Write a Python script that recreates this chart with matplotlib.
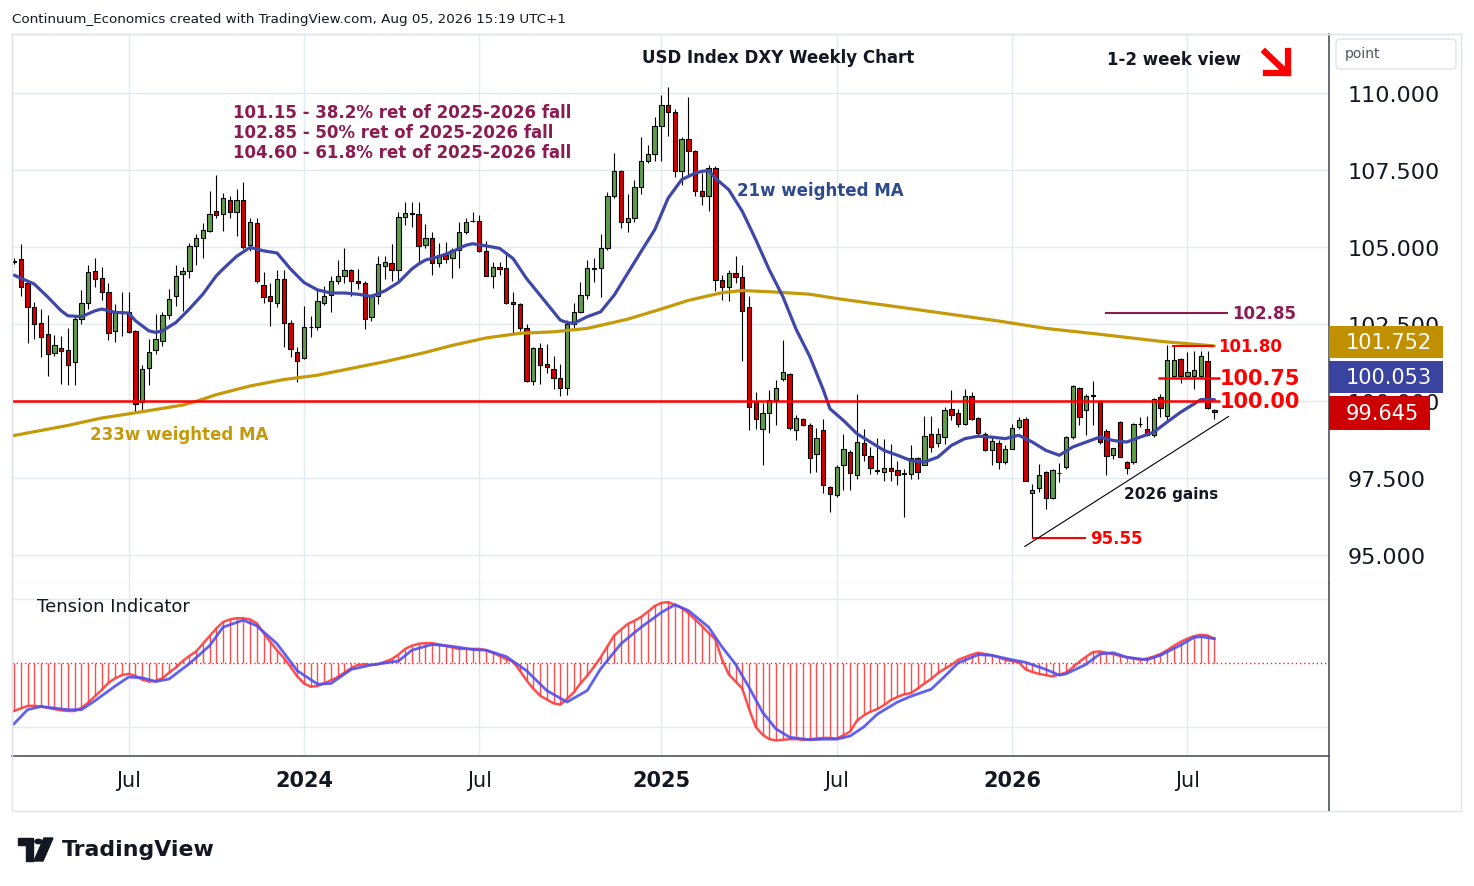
import numpy as np
import pandas as pd
import matplotlib
matplotlib.use("Agg")
import matplotlib.pyplot as plt
from matplotlib.patches import Rectangle, Polygon, Circle, FancyBboxPatch
from matplotlib.lines import Line2D

# weekly DXY candles, first bar = week of 2023-03-06
opens = [104.55, 104.61, 103.82, 103.07, 102.55, 102.18, 101.55, 101.71, 101.65, 101.26,
         102.68, 103.17, 104.21, 104.01, 103.53, 102.26, 102.88, 102.88, 102.26, 99.96,
         101.06, 101.67, 101.96, 102.79, 103.40, 104.14, 104.23, 105.02, 105.28, 105.53,
         106.16, 106.07, 106.54, 106.13, 106.54, 105.06, 105.77, 103.78, 103.40, 103.18,
         103.96, 102.55, 101.60, 101.39, 102.39, 102.42, 103.20, 103.44, 103.91, 104.05,
         104.25, 103.91, 103.85, 102.72, 103.42, 104.40, 104.47, 104.25, 105.99, 106.10,
         106.07, 105.06, 105.30, 104.49, 104.74, 104.63, 104.92, 105.50, 105.84, 105.84,
         104.88, 104.07, 104.36, 104.33, 103.23, 103.15, 102.38, 100.65, 101.73, 101.19,
         101.03, 100.74, 100.41, 102.49, 102.90, 103.46, 104.30, 104.31, 104.96, 106.67,
         107.48, 105.80, 105.96, 106.94, 107.81, 108.03, 108.92, 109.62, 109.40, 107.46,
         108.51, 108.11, 106.81, 106.65, 107.56, 103.92, 103.72, 104.16, 104.03, 103.07,
         99.99, 99.09, 99.61, 100.04, 100.71, 100.89, 99.07, 99.42, 99.21, 98.28,
         99.07, 97.20, 96.96, 97.93, 98.34, 97.59, 98.65, 98.21, 97.74, 97.69,
         97.82, 97.75, 97.65, 97.64, 98.15, 97.93, 98.94, 98.65, 98.83, 99.75,
         99.62, 99.26, 100.18, 99.45, 98.94, 98.40, 98.64, 98.02, 98.45, 99.16,
         99.43, 97.02, 97.18, 97.69, 96.85, 97.66, 97.86, 98.83, 100.42, 99.70,
         100.18, 99.99, 99.02, 98.26, 99.32, 98.02, 98.02, 99.25, 99.10, 98.89,
         100.13, 99.51, 100.83, 101.37, 100.83, 100.80, 100.80, 101.30, 99.72]
highs = [104.65, 105.10, 103.93, 103.22, 102.99, 102.79, 102.14, 102.12, 102.36, 102.77,
         103.60, 104.42, 104.66, 104.37, 103.85, 103.15, 103.53, 103.53, 102.30, 101.17,
         102.01, 102.82, 102.88, 103.64, 104.42, 104.34, 105.13, 105.42, 105.78, 106.82,
         107.34, 106.75, 106.65, 106.88, 107.10, 105.96, 105.93, 104.18, 103.85, 104.26,
         104.26, 102.64, 101.74, 103.10, 102.77, 103.66, 103.75, 104.05, 104.59, 104.97,
         104.29, 104.29, 103.91, 103.47, 104.72, 104.70, 105.10, 106.13, 106.48, 106.45,
         106.45, 105.74, 105.48, 105.12, 105.17, 104.96, 105.80, 105.93, 106.13, 106.04,
         105.19, 104.50, 104.52, 104.79, 103.55, 103.20, 102.49, 101.76, 101.90, 101.84,
         101.47, 101.22, 102.63, 103.17, 103.87, 104.58, 104.65, 105.44, 106.80, 108.07,
         107.50, 106.74, 107.19, 108.57, 108.32, 109.24, 109.95, 110.19, 109.48, 108.57,
         109.89, 108.15, 107.40, 107.67, 107.62, 104.10, 104.26, 104.72, 104.43, 103.40,
         100.28, 99.94, 100.37, 100.69, 101.99, 100.91, 99.55, 99.45, 99.29, 99.12,
         99.42, 97.25, 97.93, 98.94, 98.40, 100.24, 99.10, 98.51, 98.80, 98.78,
         98.61, 98.04, 97.80, 98.56, 98.18, 99.53, 99.51, 99.12, 99.81, 100.35,
         99.75, 100.38, 100.31, 99.48, 98.99, 98.83, 98.72, 98.56, 99.26, 99.48,
         99.48, 97.32, 97.97, 97.72, 97.80, 98.00, 98.86, 100.53, 100.45, 100.24,
         100.64, 100.02, 99.10, 98.47, 99.34, 98.07, 99.29, 99.48, 99.53, 100.10,
         100.24, 101.81, 101.83, 101.40, 101.59, 101.61, 101.64, 101.61, 99.75]
lows = [104.45, 103.42, 101.90, 102.01, 101.42, 100.80, 101.47, 100.54, 100.52, 100.52,
        102.50, 102.99, 103.69, 103.29, 101.99, 101.93, 102.12, 102.20, 99.61, 99.63,
        100.52, 101.53, 101.79, 102.66, 103.10, 102.93, 104.01, 104.42, 104.66, 105.50,
        105.96, 105.53, 105.96, 105.37, 104.94, 104.88, 103.83, 103.20, 102.45, 103.04,
        101.76, 101.42, 100.61, 101.36, 102.07, 102.30, 103.12, 102.90, 103.80, 103.85,
        103.42, 103.63, 102.34, 102.61, 103.15, 103.96, 103.91, 103.85, 105.71, 105.64,
        104.52, 104.96, 104.09, 104.36, 104.47, 104.00, 104.31, 105.41, 105.80, 104.85,
        104.07, 103.68, 104.11, 103.14, 102.20, 102.27, 100.63, 100.52, 100.57, 100.90,
        100.39, 100.17, 100.19, 102.36, 102.85, 103.33, 103.87, 103.39, 104.90, 106.58,
        105.63, 105.50, 105.80, 106.72, 107.73, 107.78, 107.78, 108.61, 107.27, 107.02,
        107.35, 106.65, 106.37, 106.16, 103.56, 103.27, 103.24, 103.83, 101.29, 99.05,
        99.08, 97.93, 98.96, 99.23, 100.64, 99.07, 98.72, 99.18, 97.66, 97.71,
        97.01, 96.40, 96.90, 97.10, 97.10, 97.48, 98.07, 97.64, 97.64, 97.42,
        97.42, 97.26, 96.23, 97.48, 97.48, 97.91, 98.34, 98.51, 98.61, 99.37,
        99.16, 99.21, 99.37, 98.91, 98.37, 97.91, 97.80, 97.97, 98.45, 99.10,
        97.40, 95.55, 97.05, 96.50, 96.83, 97.37, 97.80, 98.78, 99.21, 98.89,
        99.21, 98.61, 97.61, 98.11, 98.18, 97.64, 97.97, 99.16, 98.85, 98.83,
        99.48, 99.37, 100.75, 100.60, 100.75, 100.38, 100.75, 99.75, 99.42]
closes = [104.50, 103.69, 103.07, 102.49, 102.07, 101.52, 101.82, 101.63, 101.18, 102.66,
          103.17, 104.18, 103.98, 103.53, 102.20, 102.88, 102.85, 102.23, 99.90, 101.04,
          101.58, 102.01, 102.81, 103.33, 104.05, 104.21, 105.04, 105.28, 105.54, 106.09,
          106.04, 106.61, 106.13, 106.52, 104.99, 105.83, 103.89, 103.37, 103.24, 103.98,
          102.53, 101.69, 101.29, 102.39, 102.40, 103.26, 103.40, 103.89, 104.07, 104.25,
          103.91, 103.82, 102.68, 103.42, 104.45, 104.50, 104.25, 105.99, 106.10, 106.08,
          105.04, 105.30, 104.49, 104.74, 104.61, 104.92, 105.50, 105.82, 105.85, 104.88,
          104.07, 104.36, 104.29, 103.20, 103.15, 102.38, 100.65, 101.73, 101.17, 101.11,
          100.74, 100.41, 102.49, 102.90, 103.46, 104.31, 104.32, 104.96, 106.67, 107.48,
          105.80, 105.96, 106.94, 107.81, 108.03, 108.92, 109.62, 109.40, 107.46, 108.51,
          108.11, 106.81, 106.65, 107.56, 103.92, 103.72, 104.16, 104.03, 102.91, 99.81,
          99.42, 99.61, 100.04, 100.42, 100.96, 99.12, 99.45, 99.21, 98.15, 98.80,
          97.28, 96.98, 97.86, 98.45, 97.66, 98.67, 98.26, 97.82, 97.76, 97.82,
          97.72, 97.61, 97.63, 98.15, 97.70, 98.86, 98.51, 98.94, 99.70, 99.56,
          99.26, 100.16, 99.43, 98.97, 98.40, 98.69, 98.02, 98.43, 99.13, 99.37,
          97.42, 97.10, 97.61, 96.85, 97.75, 97.68, 98.83, 100.49, 99.48, 100.18,
          100.17, 98.67, 98.21, 98.47, 98.18, 97.82, 99.26, 99.27, 98.89, 100.08,
          99.77, 101.32, 101.32, 100.83, 100.96, 101.02, 101.46, 99.77, 99.645]

# moving averages (bar index, value)
ma21_bar = [0, 3, 5, 7, 8, 10, 12, 13, 15, 17, 18, 20, 21, 22, 24, 26, 28, 30, 31, 33,
            35, 37, 39, 41, 43, 45, 47, 49, 51, 53, 55, 57, 59, 60, 61, 63, 65, 67, 68, 70,
            72, 74, 76, 78, 80, 81, 82, 83, 85, 87, 89, 91, 93, 95, 97, 99, 101, 102, 103, 104,
            106, 108, 110, 112, 114, 116, 118, 120, 121, 123, 125, 127, 129, 131, 133, 135, 137, 139, 141, 143,
            145, 147, 149, 151, 153, 155, 157, 159, 161, 163, 165, 167, 169, 171, 173, 175, 176, 178]
ma21_val = [104.09, 103.80, 103.38, 102.93, 102.77, 102.74, 102.93, 102.99, 102.88, 102.86,
            102.61, 102.28, 102.23, 102.28, 102.55, 102.99, 103.47, 104.07, 104.29, 104.70,
            104.99, 104.88, 104.81, 104.29, 103.85, 103.61, 103.51, 103.51, 103.47, 103.40,
            103.58, 103.85, 104.29, 104.45, 104.58, 104.69, 104.85, 105.06, 105.11, 105.04,
            104.96, 104.63, 103.98, 103.44, 102.90, 102.63, 102.55, 102.52, 102.74, 102.90,
            103.44, 104.15, 104.86, 105.56, 106.59, 107.19, 107.40, 107.46, 107.49, 107.24,
            106.86, 106.16, 105.24, 104.26, 103.40, 102.32, 101.45, 100.37, 99.75, 99.37,
            98.94, 98.67, 98.40, 98.24, 98.07, 98.02, 98.18, 98.56, 98.78, 98.86,
            98.83, 98.78, 98.89, 98.67, 98.40, 98.24, 98.51, 98.67, 98.83, 98.72,
            98.67, 98.83, 98.99, 99.32, 99.64, 99.91, 100.05, 100.05]
ma233_bar = [-0.3, 8, 13, 18, 25, 27, 30, 35, 40, 45, 47, 50, 55, 61, 65, 70, 75, 80, 85, 91,
             96, 100, 105, 108, 113, 118, 122, 131, 146, 153, 161, 170, 178]
ma233_val = [98.87, 99.21, 99.45, 99.62, 99.87, 99.99, 100.21, 100.49, 100.70, 100.84,
             100.93, 101.06, 101.28, 101.58, 101.81, 102.05, 102.20, 102.25, 102.36, 102.66,
             102.99, 103.27, 103.52, 103.59, 103.54, 103.47, 103.33, 103.06, 102.60, 102.36,
             102.17, 101.94, 101.79]

# tension indicator, one value per bar
tension = [-0.75, -0.71, -0.67, -0.67, -0.68, -0.70, -0.72, -0.74, -0.75, -0.75,
           -0.70, -0.62, -0.52, -0.42, -0.31, -0.24, -0.19, -0.17, -0.20, -0.26,
           -0.29, -0.28, -0.24, -0.15, -0.07, 0.03, 0.11, 0.18, 0.30, 0.42,
           0.54, 0.64, 0.68, 0.70, 0.70, 0.68, 0.62, 0.47, 0.33, 0.20,
           0.08, -0.06, -0.21, -0.32, -0.37, -0.36, -0.32, -0.27, -0.22, -0.15,
           -0.08, -0.03, -0.02, -0.03, -0.02, 0.02, 0.06, 0.13, 0.22, 0.27,
           0.30, 0.31, 0.31, 0.29, 0.27, 0.24, 0.22, 0.22, 0.22, 0.22,
           0.20, 0.16, 0.11, 0.06, 0.02, -0.12, -0.27, -0.40, -0.51, -0.57,
           -0.63, -0.65, -0.56, -0.46, -0.32, -0.20, -0.06, 0.09, 0.26, 0.43,
           0.52, 0.61, 0.66, 0.72, 0.80, 0.89, 0.94, 0.95, 0.91, 0.86,
           0.78, 0.68, 0.58, 0.47, 0.37, 0.05, -0.18, -0.29, -0.40, -0.72,
           -1.00, -1.12, -1.19, -1.21, -1.20, -1.19, -1.19, -1.20, -1.19, -1.18,
           -1.17, -1.17, -1.18, -1.13, -1.07, -0.90, -0.82, -0.76, -0.72, -0.66,
           -0.58, -0.53, -0.49, -0.47, -0.40, -0.32, -0.25, -0.16, -0.09, -0.03,
           0.05, 0.09, 0.13, 0.16, 0.14, 0.12, 0.09, 0.05, 0.03, 0.01,
           -0.10, -0.14, -0.17, -0.19, -0.21, -0.18, -0.15, -0.07, 0.02, 0.10,
           0.17, 0.18, 0.16, 0.14, 0.11, 0.09, 0.07, 0.05, 0.07, 0.10,
           0.14, 0.20, 0.27, 0.33, 0.38, 0.42, 0.44, 0.43, 0.38]
signal_bar = [0, 2, 4, 8, 10, 12, 15, 17, 19, 21, 23, 26, 29, 31, 34, 36, 39, 42, 45, 47,
              50, 53, 57, 59, 62, 65, 68, 70, 73, 76, 79, 82, 85, 87, 90, 93, 96, 98, 100, 103,
              105, 107, 109, 111, 113, 115, 118, 120, 122, 124, 126, 128, 131, 133, 136, 138, 140, 143, 145, 148,
              150, 153, 155, 156, 159, 161, 163, 165, 168, 170, 173, 175, 176, 178]
signal_val = [-0.95, -0.73, -0.68, -0.73, -0.73, -0.59, -0.36, -0.22, -0.23, -0.29,
              -0.25, -0.01, 0.27, 0.56, 0.67, 0.58, 0.30, -0.12, -0.33, -0.32,
              -0.10, -0.03, 0.03, 0.20, 0.29, 0.26, 0.21, 0.20, 0.10, -0.12,
              -0.43, -0.61, -0.43, -0.09, 0.30, 0.56, 0.79, 0.91, 0.82, 0.56,
              0.25, -0.02, -0.38, -0.77, -1.03, -1.16, -1.20, -1.19, -1.19, -1.14,
              -1.00, -0.80, -0.61, -0.52, -0.41, -0.21, 0.00, 0.13, 0.12, 0.05,
              0.01, -0.10, -0.19, -0.17, -0.02, 0.14, 0.16, 0.09, 0.05, 0.12,
              0.28, 0.40, 0.41, 0.38]

# levels and labels
levels = [100.00, 100.75, 101.80, 95.55]
level_names = ["100.00", "100.75", "101.80", "95.55"]
fib_lines = ["101.15 - 38.2% ret of 2025-2026 fall",
             "102.85 - 50% ret of 2025-2026 fall",
             "104.60 - 61.8% ret of 2025-2026 fall"]
last_labels = ["101.752", "100.053", "99.645"]

W, H = 1474, 887
GREEN = "#5f9e4a"
RED = "#d20000"
MAROON = "#8b1c52"
GRID = "#e3eaf2"
DARK = "#50535e"


def fx(x):
    return x / W


def fy(y):
    return 1 - y / H


fig = plt.figure(figsize=(W / 100, H / 100), dpi=100)
fig.patch.set_facecolor("white")

ax = fig.add_axes([fx(12), fy(585), (1329 - 12) / W, (585 - 35) / H])
ax2 = fig.add_axes([fx(12), fy(757), (1329 - 12) / W, (757 - 585) / H], sharex=ax)

n = len(closes)
x = np.arange(n)
o = np.array(opens)
c = np.array(closes)
up = c >= o

# candles
ax.vlines(x, lows, highs, color="black", lw=0.8, zorder=2)
body_lo = np.minimum(o, c)
body_h = np.maximum(np.abs(c - o), 0.02)
ax.bar(x, body_h, bottom=body_lo, width=0.64,
       color=np.where(up, GREEN, RED), edgecolor="black", linewidth=0.8, zorder=2.5)

ax.plot(ma233_bar, ma233_val, color="#c49a0a", lw=2.3, zorder=3, solid_capstyle="round",
        solid_joinstyle="round")
ax.plot(ma21_bar, ma21_val, color="#3f48a8", lw=2.3, zorder=3, solid_capstyle="round",
        solid_joinstyle="round")

ax.set_xlim(-0.3, 195.0)
ax.set_ylim(94.06, 111.92)

# dates for the time axis
dates = pd.date_range("2023-03-06", periods=n, freq="W-MON")
tick_idx, tick_lab = [], []
for i in range(1, n):
    if dates[i].month != dates[i - 1].month and dates[i].month in (1, 7):
        tick_idx.append(i)
        tick_lab.append(str(dates[i].year) if dates[i].month == 1 else "Jul")

# grid
for t in tick_idx:
    ax.axvline(t, color=GRID, lw=1, zorder=0)
    ax2.axvline(t, color=GRID, lw=1, zorder=0)
yt = [95, 97.5, 100, 102.5, 105, 107.5, 110]
for v in yt:
    ax.axhline(v, color=GRID, lw=1, zorder=0)
for v in (-1, 1):
    ax2.axhline(v, color=GRID, lw=1, zorder=0)

# price axis
ax.yaxis.tick_right()
ax.set_yticks(yt)
ax.set_yticklabels(["%.3f" % v for v in yt])
ax.tick_params(axis="y", length=0, pad=13.5, labelsize=16, labelcolor="#131722")
ax.tick_params(axis="x", length=0, labelbottom=False)

# level lines and labels
ax.hlines(levels[0], -0.3, 178.9, color="#ff0000", lw=1.8, zorder=4)
ax.hlines(levels[1], 169.7, 178.9, color="#ff0000", lw=1.8, zorder=4)
ax.hlines(levels[2], 171.7, 178.0, color="#ff0000", lw=1.5, zorder=4)
ax.hlines(levels[3], 151.0, 159.0, color="#ff0000", lw=1.5, zorder=4)
ax.hlines(102.85, 161.8, 180.0, color=MAROON, lw=1.5, zorder=4)
ax.text(178.85, levels[0], level_names[0], color="#ff0000", fontsize=15, fontweight="bold", va="center", ha="left")
ax.text(178.85, levels[1], level_names[1], color="#ff0000", fontsize=15, fontweight="bold", va="center", ha="left")
ax.text(178.5, levels[2], level_names[2], color="#ff0000", fontsize=12, fontweight="bold", va="center", ha="left")
ax.text(159.6, levels[3], level_names[3], color="#ff0000", fontsize=12, fontweight="bold", va="center", ha="left")
ax.text(180.6, 102.85, "102.85", color=MAROON, fontsize=12, fontweight="bold", va="center", ha="left")

# trend line
ax.plot([149.9, 180.1], [95.28, 99.50], color="black", lw=0.8, zorder=4)

# last-value boxes on the price axis
boxes = [(101.92, 1.04, "#c09000", 0.0866),
         (100.78, 1.04, "#3a44a0", 0.0866),
         (99.61, 1.10, "#cc0000", 0.0767)]
tr = ax.get_yaxis_transform()
for (yc, hgt, col, wd), lab in zip(boxes, last_labels):
    ax.add_patch(Rectangle((1.0, yc - hgt / 2), wd, hgt, transform=tr, facecolor=col,
                           edgecolor="none", clip_on=False, zorder=10))
    ax.text(1.0 + wd / 2 + 0.002, yc, lab, transform=tr, color="white", fontsize=15,
            ha="center", va="center", zorder=11, clip_on=False)

# tension indicator pane
ax2.vlines(x, 0, tension, color="#ff4d4d", lw=1.0, zorder=2)
ax2.plot(x, tension, color="#ff3b3b", lw=1.8, zorder=3, alpha=0.9)
ax2.plot(signal_bar, signal_val, color="#4f4ff0", lw=2.0, zorder=3, alpha=0.9)
ax2.axhline(0, color="#ff2020", lw=1, ls=(0, (1, 2)), zorder=1)
ax2.set_ylim(-1.453, 1.234)
ax2.set_yticks([])
ax2.set_xticks(tick_idx)
ax2.set_xticklabels(tick_lab)
ax2.tick_params(axis="x", length=0, pad=10, labelsize=15, labelcolor="#131722")
for lab in ax2.get_xticklabels():
    if lab.get_text() != "Jul":
        lab.set_fontweight("bold")

for a in (ax, ax2):
    for s in a.spines.values():
        s.set_color("#e0e3eb")
        s.set_linewidth(1)
    a.spines["right"].set_color(DARK)
    a.spines["right"].set_linewidth(1.2)
ax2.spines["bottom"].set_color(DARK)
ax2.spines["bottom"].set_linewidth(1.2)
ax2.spines["top"].set_visible(False)

# outer frame and 'point' box
fig.patches.append(Rectangle((fx(12), fy(812)), (1461 - 12) / W, (812 - 35) / H,
                             transform=fig.transFigure, fill=False, edgecolor="#e0e3eb", lw=1))
fig.patches.append(Rectangle((fx(1329), fy(812)), 0.0, (812 - 757) / H,
                             transform=fig.transFigure, fill=False, edgecolor=DARK, lw=1.2))
fig.patches.append(FancyBboxPatch((fx(1336), fy(70)), (1456 - 1336) / W, 30 / H,
                                  boxstyle="round,pad=0,rounding_size=0.004",
                                  transform=fig.transFigure, fill=False, edgecolor="#e0e3eb", lw=1))
fig.text(fx(1345), fy(54), "point", fontsize=10, color="#50535e", va="center")

# texts
fig.text(fx(12), fy(19), "Continuum_Economics created with TradingView.com, Aug 05, 2026 15:19 UTC+1",
         fontsize=9.7, color="#131722", va="center")
fig.text(fx(778), fy(58), "USD Index DXY Weekly Chart", fontsize=12, fontweight="bold",
         color="#131722", ha="center", va="center")
fig.text(fx(1107), fy(60), "1-2 week view", fontsize=12, fontweight="bold", color="#131722", va="center")
for k, line in enumerate(fib_lines):
    fig.text(fx(233), fy(113 + 20 * k), line, fontsize=12, fontweight="bold", color=MAROON, va="center")
fig.text(fx(737), fy(191), "21w weighted MA", fontsize=12, fontweight="bold", color="#2e4a8a", va="center")
fig.text(fx(90), fy(435), "233w weighted MA", fontsize=12, fontweight="bold", color="#c49a0a", va="center")
fig.text(fx(1124), fy(495), "2026 gains", fontsize=11, fontweight="bold", color="#131722", va="center")
fig.text(fx(37), fy(607), "Tension Indicator", fontsize=13, color="#131722", va="center")


def pts(p):
    return [(fx(a), fy(b)) for a, b in p]


# red arrow drawn as shaft plus an open corner head
for seg in ([(1265, 53), (1286, 73)], [(1266, 74), (1288, 74)], [(1288, 52), (1288, 74)]):
    xs, ys = zip(*pts(seg))
    fig.add_artist(Line2D(xs, ys, transform=fig.transFigure, color="#ff0000", lw=4.5,
                          solid_capstyle="projecting"))

# TradingView logo
fig.patches.append(Polygon(pts([(18, 839), (33, 839), (33, 862), (26, 862), (26, 846), (18, 846)]),
                           closed=True, transform=fig.transFigure, color="#131722"))
fig.patches.append(Circle((fx(38.5), fy(842.5)), 3.6 / W, transform=fig.transFigure, color="#131722"))
fig.patches.append(Polygon(pts([(44, 839), (53, 839), (43, 862), (34, 862)]),
                           closed=True, transform=fig.transFigure, color="#131722"))
fig.text(fx(62), fy(850), "TradingView", fontsize=15.8, fontweight="bold", color="#131722", va="center")

fig.savefig("out.png", dpi=100)
